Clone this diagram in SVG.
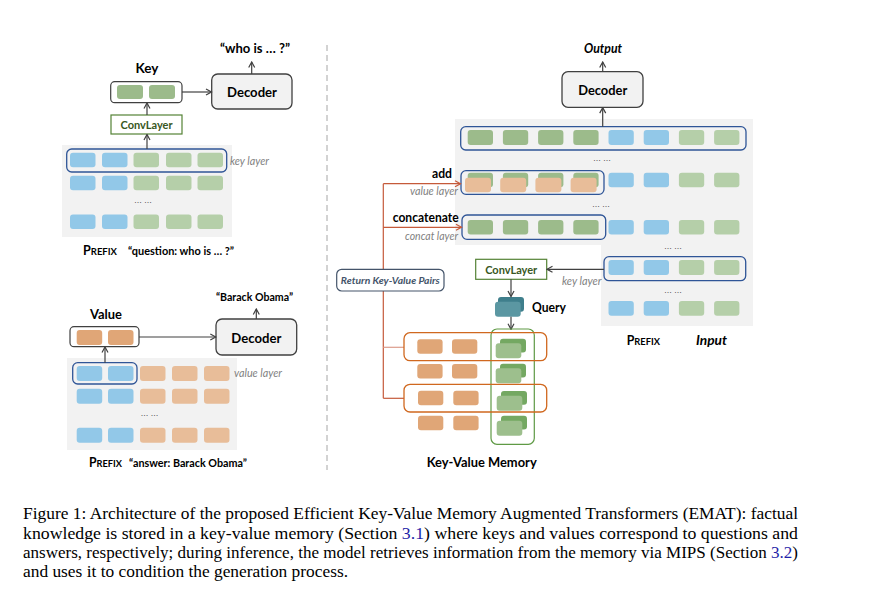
<svg xmlns="http://www.w3.org/2000/svg" width="869" height="592" viewBox="0 0 869 592">
<defs>
<style>
.bg{fill:#f2f2f2}
.bl{fill:#92c8e8}
.lg{fill:#b5cfa9}
.dg{fill:#9cbb8b}
.lo{fill:#e8bd99}
.do{fill:#e0a677}
.sel{fill:none;stroke:#2f5597;stroke-width:1.3}
.dec{fill:#f2f2f2;stroke:#404040;stroke-width:1.3}
.kbox{fill:#fff;stroke:#404040;stroke-width:1.2}
.conv{fill:#fff;stroke:#548235;stroke-width:1.2}
.arr{stroke:#404040;stroke-width:1.2;fill:none;marker-end:url(#ah)}
.rarr{stroke:#c55a3a;stroke-width:1.2;fill:none;marker-end:url(#rh)}
.rl{stroke:#c55a3a;stroke-width:1.2;fill:none}
.ob{fill:none;stroke:#d0681f;stroke-width:1.3}
.gb{fill:none;stroke:#5f9a45;stroke-width:1.2}
.t{font-family:Lato,"Liberation Sans",sans-serif;fill:#000}
.b{font-weight:bold}
.lbl{font-family:Lato,"Liberation Sans",sans-serif;font-size:10.5px;font-style:italic;fill:#7f7f7f}
.ct{font-family:Lato,"Liberation Sans",sans-serif;font-weight:bold;font-size:11.5px;fill:#385723}
.dots{font-family:"Liberation Sans",sans-serif;font-size:8px;fill:#000}
.cap{font-family:"Liberation Serif","Times New Roman",serif;font-size:16.8px;fill:#000}
.ref{fill:#1f1fa8}
</style>
<marker id="ah" markerUnits="userSpaceOnUse" markerWidth="8" markerHeight="8" viewBox="0 0 8 8" refX="7" refY="4" orient="auto"><path d="M1.5,1 L7,4 L1.5,7" fill="none" stroke="#404040" stroke-width="1.2"/></marker>
<marker id="rh" markerUnits="userSpaceOnUse" markerWidth="8" markerHeight="8" viewBox="0 0 8 8" refX="7" refY="4" orient="auto"><path d="M1.5,1 L7,4 L1.5,7" fill="none" stroke="#c55a3a" stroke-width="1.2"/></marker>
</defs>

<!-- divider -->
<line x1="327" y1="45" x2="327" y2="470" stroke="#a6a6a6" stroke-width="1" stroke-dasharray="6,4"/>

<!-- LEFT TOP: key encoding -->
<g id="left-key-prefix">
<rect class="bg" x="62" y="145" width="170" height="92"/>
<rect class="bl" x="70" y="152.7" width="25.5" height="14.5" rx="3"/>
<rect class="bl" x="102" y="152.7" width="25.5" height="14.5" rx="3"/>
<rect class="lg" x="133.5" y="152.7" width="25.5" height="14.5" rx="3"/>
<rect class="lg" x="166" y="152.7" width="25.5" height="14.5" rx="3"/>
<rect class="lg" x="197.5" y="152.7" width="25.5" height="14.5" rx="3"/>
<rect class="bl" x="70" y="175.7" width="25.5" height="14.5" rx="3"/>
<rect class="bl" x="102" y="175.7" width="25.5" height="14.5" rx="3"/>
<rect class="lg" x="133.5" y="175.7" width="25.5" height="14.5" rx="3"/>
<rect class="lg" x="166" y="175.7" width="25.5" height="14.5" rx="3"/>
<rect class="lg" x="197.5" y="175.7" width="25.5" height="14.5" rx="3"/>
<text class="dots" x="143" y="203" text-anchor="middle">… …</text>
<rect class="bl" x="70" y="214.5" width="25.5" height="14.5" rx="3"/>
<rect class="bl" x="102" y="214.5" width="25.5" height="14.5" rx="3"/>
<rect class="lg" x="133.5" y="214.5" width="25.5" height="14.5" rx="3"/>
<rect class="lg" x="166" y="214.5" width="25.5" height="14.5" rx="3"/>
<rect class="lg" x="197.5" y="214.5" width="25.5" height="14.5" rx="3"/>
<rect class="sel" x="66.7" y="149" width="160" height="23" rx="5"/>
<text class="lbl" x="230" y="165" textLength="39" lengthAdjust="spacingAndGlyphs">key layer</text>
<text class="t b" x="83" y="254.5" font-size="12.5" textLength="34" lengthAdjust="spacingAndGlyphs">P<tspan font-size="9.5">REFIX</tspan></text>
<text class="t b" x="128" y="254.5" font-size="11" textLength="106" lengthAdjust="spacingAndGlyphs">“question: who is … ?”</text>
</g>
<g id="left-key-conv">
<rect class="conv" x="111" y="115" width="71" height="19"/>
<text class="ct" x="146.5" y="128.8" text-anchor="middle" textLength="52" lengthAdjust="spacingAndGlyphs">ConvLayer</text>
</g>
<g id="left-key">
<rect class="kbox" x="110.7" y="81.7" width="71.3" height="21" rx="4"/>
<rect class="dg" x="117" y="85" width="26" height="14" rx="3"/>
<rect class="dg" x="149" y="85" width="26" height="14" rx="3"/>
<text class="t b" x="147" y="72.5" font-size="13.5" text-anchor="middle">Key</text>
</g>
<g id="left-key-decoder">
<rect class="dec" x="211.7" y="74" width="80.3" height="35" rx="6"/>
<text class="t b" x="252" y="97" font-size="14" text-anchor="middle" textLength="50" lengthAdjust="spacingAndGlyphs">Decoder</text>
<text class="t b" x="255" y="52.5" font-size="12.5" text-anchor="middle" textLength="70" lengthAdjust="spacingAndGlyphs">“who is … ?”</text>
</g>

<!-- LEFT BOTTOM: value encoding -->
<g id="left-value-prefix">
<rect class="bg" x="67" y="358" width="170" height="92"/>
<rect class="bl" x="76.7" y="366" width="25.5" height="15" rx="3"/>
<rect class="bl" x="108" y="366" width="25.5" height="15" rx="3"/>
<rect class="lo" x="140" y="366" width="25.5" height="15" rx="3"/>
<rect class="lo" x="172" y="366" width="25.5" height="15" rx="3"/>
<rect class="lo" x="204" y="366" width="25.5" height="15" rx="3"/>
<rect class="bl" x="76.7" y="388.7" width="25.5" height="15" rx="3"/>
<rect class="bl" x="108" y="388.7" width="25.5" height="15" rx="3"/>
<rect class="lo" x="140" y="388.7" width="25.5" height="15" rx="3"/>
<rect class="lo" x="172" y="388.7" width="25.5" height="15" rx="3"/>
<rect class="lo" x="204" y="388.7" width="25.5" height="15" rx="3"/>
<text class="dots" x="149.5" y="416" text-anchor="middle">… …</text>
<rect class="bl" x="76.7" y="427.7" width="25.5" height="15" rx="3"/>
<rect class="bl" x="108" y="427.7" width="25.5" height="15" rx="3"/>
<rect class="lo" x="140" y="427.7" width="25.5" height="15" rx="3"/>
<rect class="lo" x="172" y="427.7" width="25.5" height="15" rx="3"/>
<rect class="lo" x="204" y="427.7" width="25.5" height="15" rx="3"/>
<rect class="sel" x="72.7" y="362.7" width="64.3" height="21.3" rx="5"/>
<text class="lbl" x="234" y="377" textLength="48" lengthAdjust="spacingAndGlyphs">value layer</text>
<text class="t b" x="89" y="466.5" font-size="12.5" textLength="33" lengthAdjust="spacingAndGlyphs">P<tspan font-size="9.5">REFIX</tspan></text>
<text class="t b" x="129" y="466.5" font-size="11" textLength="118" lengthAdjust="spacingAndGlyphs">“answer: Barack Obama”</text>
</g>
<g id="left-value">
<rect class="kbox" x="70" y="326.7" width="69" height="20" rx="4"/>
<rect class="do" x="76.7" y="330" width="25.5" height="15" rx="3"/>
<rect class="do" x="108" y="330" width="25.5" height="15" rx="3"/>
<text class="t b" x="106" y="318.5" font-size="13.5" text-anchor="middle" textLength="32" lengthAdjust="spacingAndGlyphs">Value</text>
</g>
<g id="left-value-decoder">
<rect class="dec" x="216" y="319" width="80.7" height="36" rx="6"/>
<text class="t b" x="256.3" y="342.5" font-size="14" text-anchor="middle" textLength="50" lengthAdjust="spacingAndGlyphs">Decoder</text>
<text class="t b" x="254.5" y="300.5" font-size="12" text-anchor="middle" textLength="77" lengthAdjust="spacingAndGlyphs">“Barack Obama”</text>
</g>

<!-- RIGHT: EMAT -->
<g id="right-encoder">
<path class="bg" d="M455,119 H753 V326 H601 V245 H455 Z"/>
<!-- row 1 -->
<rect class="dg" x="467.7" y="130" width="25.3" height="15" rx="3"/>
<rect class="dg" x="502.9" y="130" width="25.3" height="15" rx="3"/>
<rect class="dg" x="538.1" y="130" width="25.3" height="15" rx="3"/>
<rect class="dg" x="573.3" y="130" width="25.3" height="15" rx="3"/>
<rect class="bl" x="608.5" y="130" width="25.3" height="15" rx="3"/>
<rect class="bl" x="643.7" y="130" width="25.3" height="15" rx="3"/>
<rect class="lg" x="678.9" y="130" width="25.3" height="15" rx="3"/>
<rect class="lg" x="714.1" y="130" width="25.3" height="15" rx="3"/>
<rect class="sel" x="460.7" y="126.7" width="285.3" height="23.3" rx="5"/>
<text class="dots" x="602" y="161" text-anchor="middle">… …</text>
<!-- row 2 (add) -->
<rect class="dg" x="467.7" y="172.7" width="25.3" height="14.5" rx="3"/>
<rect class="dg" x="502.9" y="172.7" width="25.3" height="14.5" rx="3"/>
<rect class="dg" x="538.1" y="172.7" width="25.3" height="14.5" rx="3"/>
<rect class="dg" x="573.3" y="172.7" width="25.3" height="14.5" rx="3"/>
<rect class="lo" x="465" y="177.7" width="26" height="14.6" rx="3"/>
<rect class="lo" x="500.2" y="177.7" width="26" height="14.6" rx="3"/>
<rect class="lo" x="535.4" y="177.7" width="26" height="14.6" rx="3"/>
<rect class="lo" x="570.6" y="177.7" width="26" height="14.6" rx="3"/>
<rect class="bl" x="608.5" y="172.7" width="25.3" height="14.5" rx="3"/>
<rect class="bl" x="643.7" y="172.7" width="25.3" height="14.5" rx="3"/>
<rect class="lg" x="678.9" y="172.7" width="25.3" height="14.5" rx="3"/>
<rect class="lg" x="714.1" y="172.7" width="25.3" height="14.5" rx="3"/>
<rect class="sel" x="461" y="170.7" width="143" height="23.6" rx="5"/>
<text class="dots" x="601" y="207" text-anchor="middle">… …</text>
<!-- row 3 (concat) -->
<rect class="dg" x="467.7" y="220" width="25.3" height="14.5" rx="3"/>
<rect class="dg" x="502.9" y="220" width="25.3" height="14.5" rx="3"/>
<rect class="dg" x="538.1" y="220" width="25.3" height="14.5" rx="3"/>
<rect class="dg" x="573.3" y="220" width="25.3" height="14.5" rx="3"/>
<rect class="bl" x="608.5" y="220" width="25.3" height="14.5" rx="3"/>
<rect class="bl" x="643.7" y="220" width="25.3" height="14.5" rx="3"/>
<rect class="lg" x="678.9" y="220" width="25.3" height="14.5" rx="3"/>
<rect class="lg" x="714.1" y="220" width="25.3" height="14.5" rx="3"/>
<rect class="sel" x="462" y="215" width="143.7" height="24.3" rx="5"/>
<text class="dots" x="673" y="249" text-anchor="middle">… …</text>
<!-- row 4 (key layer) -->
<rect class="bl" x="608.5" y="260" width="25.3" height="15" rx="3"/>
<rect class="bl" x="643.7" y="260" width="25.3" height="15" rx="3"/>
<rect class="lg" x="678.9" y="260" width="25.3" height="15" rx="3"/>
<rect class="lg" x="714.1" y="260" width="25.3" height="15" rx="3"/>
<rect class="sel" x="604" y="256.7" width="141.7" height="24" rx="5"/>
<text class="dots" x="673" y="293" text-anchor="middle">… …</text>
<!-- row 5 -->
<rect class="bl" x="608.5" y="301" width="25.3" height="14.7" rx="3"/>
<rect class="bl" x="643.7" y="301" width="25.3" height="14.7" rx="3"/>
<rect class="lg" x="678.9" y="301" width="25.3" height="14.7" rx="3"/>
<rect class="lg" x="714.1" y="301" width="25.3" height="14.7" rx="3"/>
<text class="t b" x="452" y="177.5" font-size="13.5" text-anchor="end" textLength="20" lengthAdjust="spacingAndGlyphs">add</text>
<text class="lbl" x="458" y="195" text-anchor="end" textLength="48" lengthAdjust="spacingAndGlyphs">value layer</text>
<text class="t b" x="458.7" y="221.5" font-size="13.5" text-anchor="end" textLength="66" lengthAdjust="spacingAndGlyphs">concatenate</text>
<text class="lbl" x="458" y="239.5" text-anchor="end" textLength="53" lengthAdjust="spacingAndGlyphs">concat layer</text>
<text class="lbl" x="562" y="284.5" textLength="39.5" lengthAdjust="spacingAndGlyphs">key layer</text>
<text class="t b" x="626.7" y="345" font-size="12.5" textLength="33.3" lengthAdjust="spacingAndGlyphs">P<tspan font-size="9.5">REFIX</tspan></text>
<text class="t b" x="696" y="345" font-size="14" font-style="italic" textLength="31" lengthAdjust="spacingAndGlyphs">Input</text>
</g>
<g id="right-decoder">
<rect class="dec" x="562" y="71.7" width="81" height="35.6" rx="6"/>
<text class="t b" x="602.7" y="95" font-size="14" text-anchor="middle" textLength="49" lengthAdjust="spacingAndGlyphs">Decoder</text>
<text class="t b" x="603" y="52.5" font-size="12.5" font-style="italic" text-anchor="middle" textLength="38" lengthAdjust="spacingAndGlyphs">Output</text>
</g>
<g id="right-conv">
<rect class="conv" x="475.7" y="259.3" width="71" height="20"/>
<text class="ct" x="511.2" y="273.5" text-anchor="middle" textLength="52" lengthAdjust="spacingAndGlyphs">ConvLayer</text>
</g>
<g id="query">
<rect x="498" y="297" width="26" height="14.7" rx="3" fill="#3f7f8c"/>
<rect x="495" y="301.7" width="25.7" height="15" rx="3" fill="#5b97a2"/>
<text class="t b" x="532" y="311.5" font-size="13" textLength="34" lengthAdjust="spacingAndGlyphs">Query</text>
</g>

<!-- connectors -->
<g id="connectors">
<line class="arr" x1="147" y1="149" x2="147" y2="134.5"/>
<line class="arr" x1="147" y1="115" x2="147" y2="103"/>
<line class="arr" x1="182" y1="92" x2="211.5" y2="92"/>
<line class="arr" x1="251.7" y1="74" x2="251.7" y2="62"/>
<line class="arr" x1="105" y1="362.7" x2="105" y2="347"/>
<line class="arr" x1="139" y1="337" x2="215.8" y2="337"/>
<line class="arr" x1="256.3" y1="319" x2="256.3" y2="309"/>
<line class="arr" x1="602.7" y1="126.7" x2="602.7" y2="107.6"/>
<line class="arr" x1="602.7" y1="71.7" x2="602.7" y2="62"/>
<line class="arr" x1="604" y1="269.3" x2="547" y2="269.3"/>
<line class="arr" x1="511" y1="279.3" x2="511" y2="296.5"/>
<line class="arr" x1="511" y1="316.7" x2="511" y2="329.3"/>
<line class="rl" x1="383.3" y1="183.7" x2="383.3" y2="398.3"/>
<line class="rarr" x1="383.3" y1="183.7" x2="460.5" y2="183.7"/>
<line class="rarr" x1="383.3" y1="227.3" x2="461.5" y2="227.3"/>
<line x1="383.3" y1="347.3" x2="404" y2="347.3" stroke="#dc9c8c" stroke-width="1.2"/>
<line class="rl" x1="383.3" y1="398.3" x2="404" y2="398.3"/>
</g>

<g id="return-pairs">
<rect x="336.7" y="269.3" width="107.3" height="21.7" rx="5" fill="#fff" stroke="#44546a" stroke-width="1.2"/>
<text x="390.3" y="283.5" font-family="Lato,'Liberation Sans',sans-serif" font-size="9.5" font-weight="bold" font-style="italic" fill="#44546a" text-anchor="middle" textLength="99" lengthAdjust="spacingAndGlyphs">Return Key-Value Pairs</text>
</g>

<g id="kv-memory">
<rect class="do" x="417.3" y="339.3" width="25.3" height="14.5" rx="3"/>
<rect class="do" x="452" y="339.3" width="25.3" height="14.5" rx="3"/>
<rect class="do" x="417.3" y="364" width="25.3" height="14.5" rx="3"/>
<rect class="do" x="452" y="364" width="25.3" height="14.5" rx="3"/>
<rect class="do" x="418" y="390.7" width="25.3" height="14.5" rx="3"/>
<rect class="do" x="453.3" y="390.7" width="25.3" height="14.5" rx="3"/>
<rect class="do" x="418" y="415.7" width="25.3" height="14.5" rx="3"/>
<rect class="do" x="453.3" y="415.7" width="25.3" height="14.5" rx="3"/>
<rect x="500" y="338.7" width="26" height="13.7" rx="3" fill="#74a862"/>
<rect x="495.7" y="343.3" width="25.6" height="15" rx="3" fill="#9dbf8d"/>
<rect x="500" y="363.7" width="26" height="13.7" rx="3" fill="#74a862"/>
<rect x="495.7" y="368.3" width="25.6" height="15" rx="3" fill="#9dbf8d"/>
<rect x="501" y="391" width="26" height="13.7" rx="3" fill="#74a862"/>
<rect x="496.7" y="395.7" width="25.6" height="15" rx="3" fill="#9dbf8d"/>
<rect x="501" y="415.7" width="26" height="13.7" rx="3" fill="#74a862"/>
<rect x="496.7" y="420.7" width="25.6" height="15" rx="3" fill="#9dbf8d"/>
<rect class="gb" x="491" y="329" width="43.3" height="115.3" rx="6"/>
<rect class="ob" x="404" y="332.7" width="142.7" height="28" rx="6"/>
<rect class="ob" x="404" y="384.3" width="142.7" height="27.7" rx="6"/>
<text class="t b" x="481.7" y="467" font-size="13.5" text-anchor="middle" textLength="110" lengthAdjust="spacingAndGlyphs">Key-Value Memory</text>
</g>

<!-- caption -->
<g id="caption">
<text class="cap" x="23" y="519.3" textLength="775" lengthAdjust="spacingAndGlyphs">Figure 1: Architecture of the proposed Efficient Key-Value Memory Augmented Transformers (EMAT): factual</text>
<text class="cap" x="23" y="538.6" textLength="775" lengthAdjust="spacingAndGlyphs">knowledge is stored in a key-value memory (Section <tspan class="ref">3.1</tspan>) where keys and values correspond to questions and</text>
<text class="cap" x="23" y="557.9" textLength="775" lengthAdjust="spacingAndGlyphs">answers, respectively; during inference, the model retrieves information from the memory via MIPS (Section <tspan class="ref">3.2</tspan>)</text>
<text class="cap" x="23" y="577.3" textLength="325" lengthAdjust="spacingAndGlyphs">and uses it to condition the generation process.</text>
</g>
</svg>
